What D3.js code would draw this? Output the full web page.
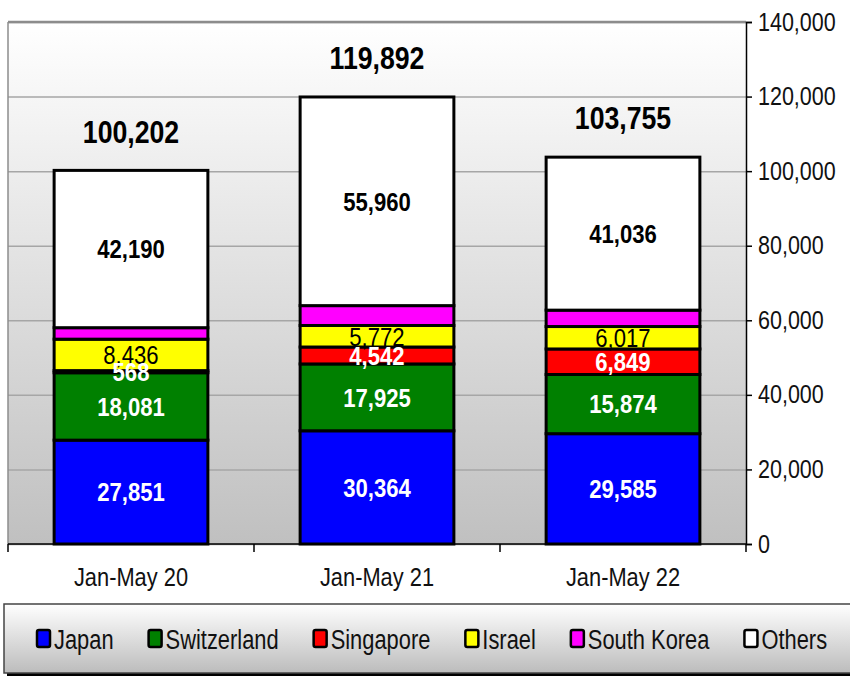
<!DOCTYPE html>
<html>
<head>
<meta charset="utf-8">
<script src="https://d3js.org/d3.v7.min.js"></script>
<style>
  body { margin: 0; background: #fff; }
  text { font-family: "Liberation Sans", Arial, sans-serif; }
  .grid line { stroke: #a6a6a6; stroke-width: 1.5px; }
  .grid .domain { stroke: none; }
  .seg { stroke: #000; stroke-width: 3px; }
</style>
</head>
<body>
<svg id="chart" width="850" height="677"></svg>
<script>
// data
const periods = ["Jan-May 20", "Jan-May 21", "Jan-May 22"];
const countries = ["Japan", "Switzerland", "Singapore", "Israel", "South Korea", "Others"];
const japan       = [27851, 30364, 29585];
const switzerland = [18081, 17925, 15874];
const singapore   = [568, 4542, 6849];
const israel      = [8436, 5772, 6017];
const southKorea  = [3076, 5329, 4394];
const others      = [42190, 55960, 41036];
const totals      = [100202, 119892, 103755];
const yTicks      = [0, 20000, 40000, 60000, 80000, 100000, 120000, 140000];

const colors = {
  "Japan": "#0000ff", "Switzerland": "#008000", "Singapore": "#ff0000",
  "Israel": "#ffff00", "South Korea": "#ff00ff", "Others": "#ffffff"
};
// label style per series (null = no label)
const labelStyle = {
  "Japan": { fill: "#fff", weight: "bold" },
  "Switzerland": { fill: "#fff", weight: "bold" },
  "Singapore": { fill: "#fff", weight: "bold" },
  "Israel": { fill: "#000", weight: "normal" },
  "South Korea": null,
  "Others": { fill: "#000", weight: "bold" }
};

const rows = periods.map((p, i) => ({
  period: p,
  "Japan": japan[i], "Switzerland": switzerland[i], "Singapore": singapore[i],
  "Israel": israel[i], "South Korea": southKorea[i], "Others": others[i],
  total: totals[i]
}));

// squeeze text horizontally (no narrow font installed)
function narrow(sel, k) {
  sel.each(function () {
    const w = this.getComputedTextLength();
    d3.select(this).attr("textLength", w * k).attr("lengthAdjust", "spacingAndGlyphs");
  });
}

const svg = d3.select("#chart");
const plot = { left: 8, right: 746, top: 22, bottom: 544 };

const x = d3.scaleBand().domain(periods).range([plot.left, plot.right]).paddingInner(0.375).paddingOuter(0.1875);
const y = d3.scaleLinear().domain([0, 140000]).range([plot.bottom, plot.top]);

// background gradients
const defs = svg.append("defs");
const g1 = defs.append("linearGradient").attr("id", "bg").attr("x1", 0).attr("y1", 0).attr("x2", 0).attr("y2", 1);
g1.append("stop").attr("offset", "0%").attr("stop-color", "#ffffff");
g1.append("stop").attr("offset", "100%").attr("stop-color", "#c0c0c0");

svg.append("rect")
  .attr("x", plot.left).attr("y", plot.top)
  .attr("width", plot.right - plot.left).attr("height", plot.bottom - plot.top)
  .attr("fill", "url(#bg)");

// gridlines
svg.append("g").attr("class", "grid")
  .attr("transform", `translate(${plot.left},0)`)
  .call(d3.axisLeft(y).tickValues(yTicks).tickSize(-(plot.right - plot.left)).tickFormat(""));

// plot frame (top and left, grey)
svg.append("line").attr("x1", plot.left).attr("x2", plot.right).attr("y1", plot.top).attr("y2", plot.top)
  .attr("stroke", "#8c8c8c").attr("stroke-width", 2.5);
svg.append("line").attr("x1", plot.left).attr("x2", plot.left).attr("y1", plot.top).attr("y2", plot.bottom)
  .attr("stroke", "#8c8c8c").attr("stroke-width", 1.5);

// stacked bars
const stack = d3.stack().keys(countries);
const series = stack(rows);

svg.append("g").selectAll("g.layer").data(series)
  .join("g").attr("class", "layer")
  .selectAll("rect").data(d => d.map(v => ({ key: d.key, v })))
  .join("rect")
  .attr("class", "seg")
  .attr("x", d => x(d.v.data.period))
  .attr("width", x.bandwidth())
  .attr("y", d => y(d.v[1]))
  .attr("height", d => y(d.v[0]) - y(d.v[1]))
  .attr("fill", d => colors[d.key]);

// segment labels, drawn above all bars (top series first so lower labels sit on top)
const labelData = series.slice().reverse()
  .filter(s => labelStyle[s.key])
  .flatMap(s => s.map(v => ({ key: s.key, v })));

svg.append("g").selectAll("text").data(labelData)
  .join("text")
  .attr("x", d => x(d.v.data.period) + x.bandwidth() / 2)
  .attr("y", d => y((d.v[0] + d.v[1]) / 2))
  .attr("dy", "0.36em")
  .attr("text-anchor", "middle")
  .attr("font-size", 26)
  .attr("font-weight", d => labelStyle[d.key].weight)
  .attr("fill", d => labelStyle[d.key].fill)
  .text(d => d3.format(",")(d.v[1] - d.v[0]))
  .call(narrow, 0.85);

// totals
svg.append("g").selectAll("text").data(rows)
  .join("text")
  .attr("x", d => x(d.period) + x.bandwidth() / 2)
  .attr("y", d => y(d.total) - 39)
  .attr("dy", "0.36em")
  .attr("text-anchor", "middle")
  .attr("font-size", 31)
  .attr("font-weight", "bold")
  .text(d => d3.format(",")(d.total))
  .call(narrow, 0.86);

// right y axis
const yAxis = svg.append("g")
  .attr("transform", `translate(${plot.right},0)`)
  .call(d3.axisRight(y).tickValues(yTicks).tickSize(6).tickPadding(6).tickFormat(d3.format(",")));
yAxis.select(".domain").attr("stroke", "#000").attr("stroke-width", 1.5);
yAxis.selectAll(".tick line").attr("stroke", "#000").attr("stroke-width", 1.5);
yAxis.selectAll("text").attr("font-size", 25).attr("fill", "#111")
  .style("font-family", '"Liberation Sans", Arial, sans-serif')
  .call(narrow, 0.86);

// bottom axis with ticks between categories
const xAxis = svg.append("g").attr("transform", `translate(0,${plot.bottom})`);
xAxis.append("line").attr("x1", plot.left).attr("x2", plot.right).attr("stroke", "#000").attr("stroke-width", 1.5);
const step = x.step();
xAxis.selectAll("line.tk").data(d3.range(periods.length + 1))
  .join("line").attr("class", "tk")
  .attr("x1", i => plot.left + i * step).attr("x2", i => plot.left + i * step)
  .attr("y1", 0).attr("y2", 8).attr("stroke", "#000").attr("stroke-width", 1.5);
xAxis.selectAll("text").data(periods)
  .join("text")
  .attr("x", d => x(d) + x.bandwidth() / 2)
  .attr("y", 33)
  .attr("dy", "0.36em")
  .attr("text-anchor", "middle")
  .attr("font-size", 26)
  .attr("fill", "#111")
  .text(d => d)
  .call(narrow, 0.84);

// legend
const lg = defs.append("linearGradient").attr("id", "lgbg").attr("x1", 0).attr("y1", 0).attr("x2", 0).attr("y2", 1);
lg.append("stop").attr("offset", "0%").attr("stop-color", "#ffffff");
lg.append("stop").attr("offset", "100%").attr("stop-color", "#bcbcbc");

const legend = svg.append("g");
legend.append("rect").attr("x", 7).attr("y", 607).attr("width", 860).attr("height", 69).attr("fill", "#000");
legend.append("rect").attr("x", 4).attr("y", 604).attr("width", 860).attr("height", 69)
  .attr("fill", "url(#lgbg)").attr("stroke", "#444").attr("stroke-width", 1.5);

const items = legend.selectAll("g.item").data(countries).join("g").attr("class", "item");
items.append("rect")
  .attr("width", 13).attr("height", 17).attr("rx", 2)
  .attr("y", 630)
  .attr("fill", d => colors[d]).attr("stroke", "#000").attr("stroke-width", 2.5);
items.append("text")
  .attr("x", 17).attr("y", 639).attr("dy", "0.36em")
  .attr("font-size", 27)
  .attr("fill", "#111")
  .text(d => d)
  .call(narrow, 0.81);
let cx = 37;
items.each(function () {
  const it = d3.select(this);
  it.attr("transform", `translate(${cx},0)`);
  cx += 17 + +it.select("text").attr("textLength") + 35;
});
</script>
</body>
</html>
